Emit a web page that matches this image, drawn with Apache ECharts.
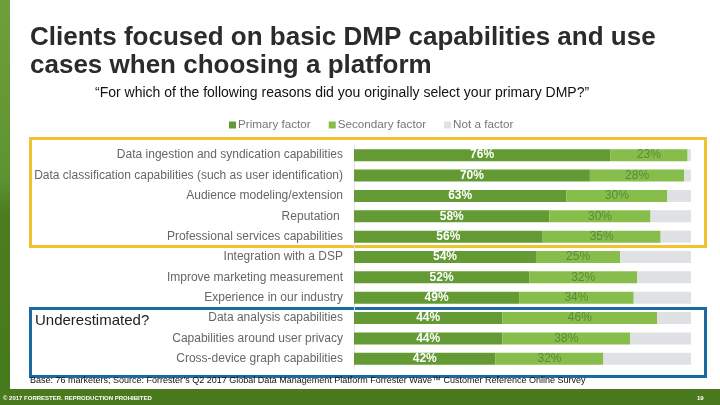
<!DOCTYPE html>
<html><head><meta charset="utf-8">
<script src="https://cdn.jsdelivr.net/npm/echarts@6/dist/echarts.min.js"></script>
<style>html,body{margin:0;padding:0;background:#fff}#c{width:720px;height:405px}</style>
</head><body><div id="c"></div>
<script>
const categories = [
  'Data ingestion and syndication capabilities',
  'Data classification capabilities (such as user identification)',
  'Audience modeling/extension',
  'Reputation ',
  'Professional services capabilities',
  'Integration with a DSP',
  'Improve marketing measurement',
  'Experience in our industry',
  'Data analysis capabilities',
  'Capabilities around user privacy',
  'Cross-device graph capabilities'
];
const primary   = [76, 70, 63, 58, 56, 54, 52, 49, 44, 44, 42];
const secondary = [23, 28, 30, 30, 35, 25, 32, 34, 46, 38, 32];
const notFactor = [1, 2, 7, 12, 9, 21, 16, 17, 10, 18, 26];
const seriesNames = ['Primary factor', 'Secondary factor', 'Not a factor'];

const chart = echarts.init(document.getElementById('c'));
const F = 'Liberation Sans, Arial, sans-serif';
chart.setOption({
  animation: false,
  textStyle: { fontFamily: F },
  legend: {
    data: seriesNames,
    left: 224, top: 114,
    itemWidth: 7, itemHeight: 7, itemGap: 18,
    icon: 'rect',
    textStyle: { color: '#777', fontSize: 11.7, fontFamily: F, padding: [0,0,0,-3] }
  },
  grid: { left: 354, top: 145, width: 337, height: 224, containLabel: false },
  xAxis: { type: 'value', min: 0, max: 100, show: false },
  yAxis: {
    type: 'category', data: categories, inverse: true,
    axisLine: { show: true, lineStyle: { color: '#e4e4e4', width: 1 } },
    axisTick: { show: false },
    axisLabel: { color: '#666', fontSize: 12, margin: 11, fontFamily: F }
  },
  series: [
    { name: seriesNames[0], type: 'bar', stack: 's', data: primary, barWidth: 12,
      itemStyle: { color: '#639a33' },
      label: { show: true, position: 'inside', formatter: '{c}%', color: '#fff', fontWeight: 'bold', fontSize: 12, fontFamily: F } },
    { name: seriesNames[1], type: 'bar', stack: 's', data: secondary, barWidth: 12,
      itemStyle: { color: '#86bd4b' },
      label: { show: true, position: 'inside', formatter: '{c}%', color: '#5a8a3a', fontSize: 12, fontFamily: F } },
    { name: seriesNames[2], type: 'bar', stack: 's', data: notFactor, barWidth: 12,
      itemStyle: { color: '#dfe1e5' } }
  ],
  graphic: [
    { type: 'rect', left: 0, top: 0, shape: { width: 10, height: 390 },
      style: { fill: new echarts.graphic.LinearGradient(0, 0, 0, 1, [
        { offset: 0, color: '#6e9f3c' }, { offset: 0.45, color: '#5f9331' }, { offset: 0.55, color: '#4b7d20' }, { offset: 1, color: '#477a1d' }]) } },
    { type: 'rect', left: 0, top: 389, shape: { width: 720, height: 16 }, style: { fill: '#4a7a1d' } },
    { type: 'text', left: 30, top: 24, style: { text: 'Clients focused on basic DMP capabilities and use\ncases when choosing a platform', fill: '#2b2b2b', font: 'bold 26px ' + F, lineHeight: 28 } },
    { type: 'text', left: 95, top: 86, style: { text: '\u201CFor which of the following reasons did you originally select your primary DMP?\u201D', fill: '#111', font: '14px ' + F } },
    { type: 'rect', left: 28, top: 136, shape: { width: 675, height: 108 }, style: { fill: 'none', stroke: '#f2c12e', lineWidth: 3 } },
    { type: 'rect', left: 28, top: 306, shape: { width: 675, height: 68 }, style: { fill: 'none', stroke: '#1c6aa3', lineWidth: 3 } },
    { type: 'text', left: 35, top: 313, style: { text: 'Underestimated?', fill: '#222', font: '15px ' + F } },
    { type: 'text', left: 30, top: 376, style: { text: 'Base: 76 marketers; Source: Forrester\u2019s Q2 2017 Global Data Management Platform Forrester Wave\u2122 Customer Reference Online Survey', fill: '#111', font: '9px ' + F } },
    { type: 'text', left: 3, top: 395, style: { text: '\u00A9 2017 FORRESTER. REPRODUCTION PROHIBITED', fill: '#fff', font: 'bold 6px ' + F } },
    { type: 'text', left: 697, top: 395, style: { text: '19', fill: '#fff', font: 'bold 6px ' + F } }
  ]
});
</script></body></html>
